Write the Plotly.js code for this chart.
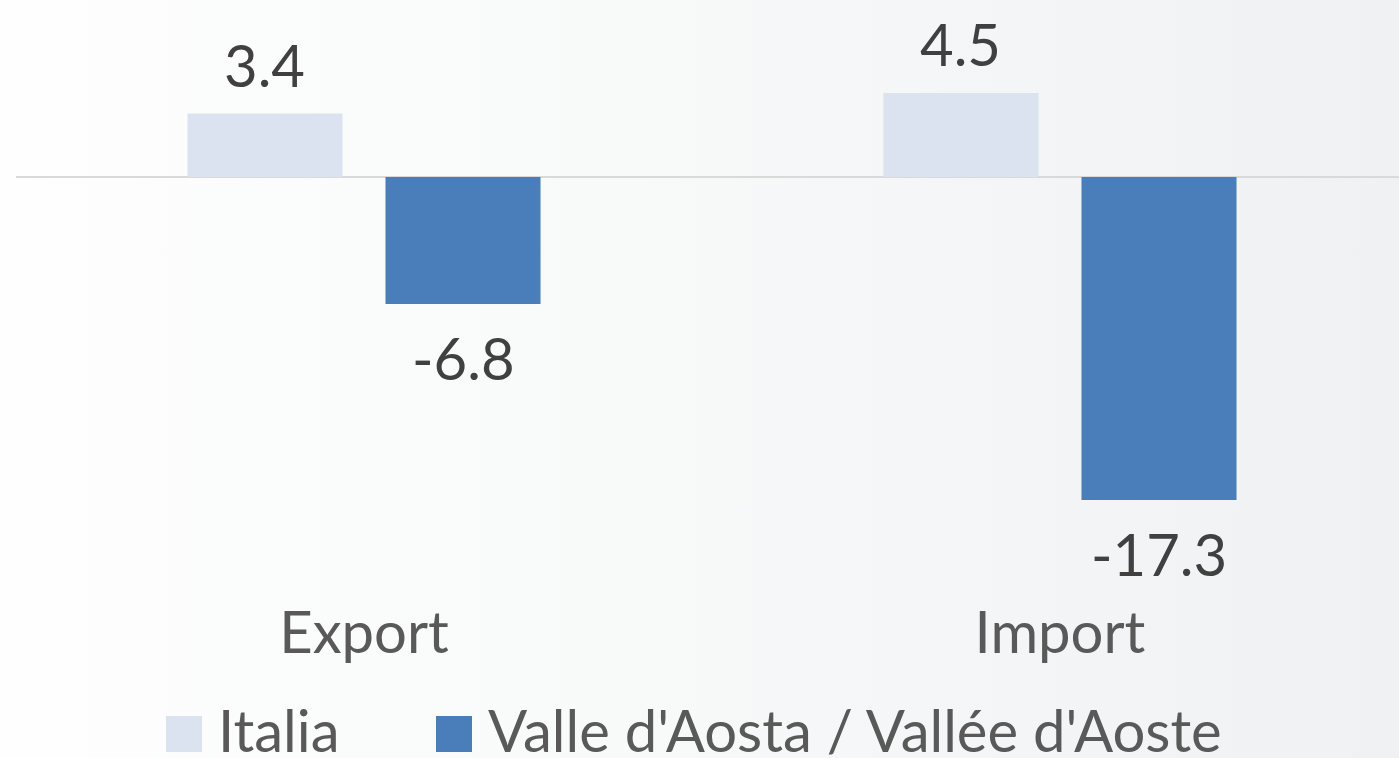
<!DOCTYPE html>
<html>
<head>
<meta charset="utf-8">
<script src="https://cdn.plot.ly/plotly-3.0.1.min.js"></script>
<style>
  html, body { margin:0; padding:0; }
  body { width:1399px; height:758px; overflow:hidden;
         background: linear-gradient(to right, #fefefe 0%, #f8f9f9 45%, #f0f1f3 100%); }
  #chart { width:1399px; height:758px; }
</style>
</head>
<body>
<div id="chart"></div>
<script>
// ---- data ----
const categories = ["Export", "Import"];
const seriesNames = ["Italia", "Valle d'Aosta / Vallée d'Aoste"];
const italiaValues = [3.4, 4.5];
const valleValues = [-6.8, -17.3];
const seriesColors = ["#dae3ef", "#4a7ebb"];

// ---- layout constants ----
const W = 1399, Hpage = 758;
const mL = 16, mR = 0, mT = 0, mB = 168;
const plotW = W - mL - mR, plotH = Hpage - mT - mB;
const FONT = "Lato, 'Open Sans', sans-serif";
const FS = 58;
const bargap = 0.431;
const slot = (1 - bargap) / 2;

function px(x) { return (x - mL) / plotW; }
function py(y) { return (mT + plotH - y) / plotH; }

const traces = [
  { type:'bar', name: seriesNames[0], x: categories, y: italiaValues,
    marker:{ color: seriesColors[0] }, showlegend:false, hoverinfo:'none' },
  { type:'bar', name: seriesNames[1], x: categories, y: valleValues,
    marker:{ color: seriesColors[1] }, showlegend:false, hoverinfo:'none' }
];

const annotations = [];
[italiaValues, valleValues].forEach((vals, s) => {
  vals.forEach((v, i) => {
    annotations.push({
      x: i + (s === 0 ? -slot/2 : slot/2), y: v, xref:'x', yref:'y',
      text: v.toFixed(1), showarrow:false, xanchor:'center', yanchor:'middle',
      yshift: v >= 0 ? 49 : -54,
      font:{ family: FONT, size: FS, color:'#404040' }
    });
  });
});

// custom legend
const legendItems = [
  { sq0: 166, text: 216 },
  { sq0: 436, text: 486 }
];
const shapes = [];
legendItems.forEach((it, s) => {
  shapes.push({ type:'rect', xref:'paper', yref:'paper',
    x0: px(it.sq0), x1: px(it.sq0 + 36), y0: py(752), y1: py(716),
    fillcolor: seriesColors[s], line:{ width:0 } });
  annotations.push({ xref:'paper', yref:'paper', x: px(it.text), y: py(729),
    xanchor:'left', yanchor:'middle', showarrow:false, text: seriesNames[s],
    font:{ family: FONT, size: FS, color:'#595959' } });
});

const layout = {
  width: W, height: Hpage,
  margin:{ l:mL, r:mR, t:mT, b:mB, pad:0 },
  paper_bgcolor:'rgba(0,0,0,0)', plot_bgcolor:'rgba(0,0,0,0)',
  barmode:'group', bargap: bargap, bargroupgap: 0.217,
  showlegend:false,
  xaxis:{ type:'category', range:[-0.5, -0.5 + plotW/696], showgrid:false, showline:false,
          zeroline:false, ticks:'', ticklabelstandoff: 4,
          tickfont:{ family: FONT, size: FS, color:'#595959' }, fixedrange:true },
  yaxis:{ range:[-(plotH-177)/18.67, 177/18.67], showgrid:false, showticklabels:false,
          zeroline:true, zerolinecolor:'#d9d9d9', zerolinewidth:2, showline:false, fixedrange:true },
  annotations: annotations,
  shapes: shapes,
  font:{ family: FONT }
};

Plotly.newPlot('chart', traces, layout, { displayModeBar:false, staticPlot:true });
</script>
</body>
</html>
